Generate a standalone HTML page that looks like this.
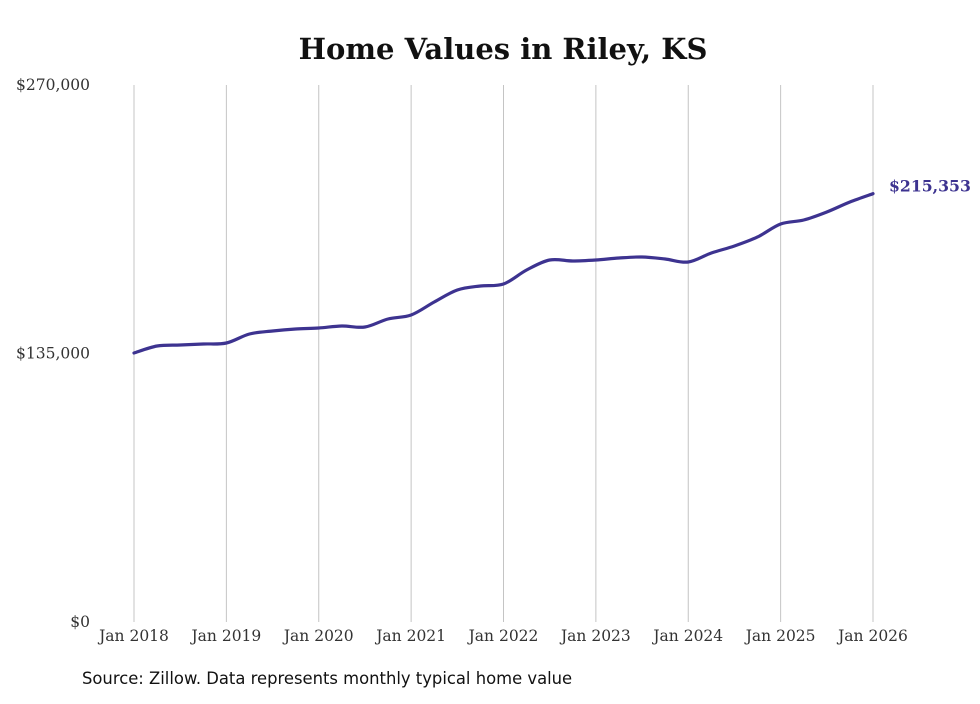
<!DOCTYPE html>
<html><head><meta charset="utf-8">
<style>
body{margin:0;background:#fff;width:980px;height:699px;overflow:hidden}
svg text{font-family:"DejaVu Serif","Liberation Serif",serif}
</style></head>
<body>
<svg id="chart" width="980" height="699" viewBox="0 0 980 699" xmlns="http://www.w3.org/2000/svg">
<text x="503" y="59" text-anchor="middle" font-size="29" font-weight="bold" fill="#111">Home Values in Riley, KS</text>
<g id="grid"></g>
<g id="yaxis"></g>
<g id="xaxis"></g>
<path id="line" fill="none" stroke="#3d3390" stroke-width="3.2" stroke-linejoin="round" stroke-linecap="round"/>
<text id="endlabel" font-size="15.7" font-weight="bold" fill="#3d3390"></text>
<text x="82" y="684" font-size="16.4" fill="#111" style="font-family:'DejaVu Sans','Liberation Sans',sans-serif">Source: Zillow. Data represents monthly typical home value</text>
</svg>
<script>
const xYears = [2018,2018.25,2018.5,2018.75,2019,2019.25,2019.5,2019.75,2020,2020.25,2020.5,2020.75,2021,2021.25,2021.5,2021.75,2022,2022.25,2022.5,2022.75,2023,2023.25,2023.5,2023.75,2024,2024.25,2024.5,2024.75,2025,2025.25,2025.5,2025.75,2026];
const values = [135250,138770,139270,139780,140280,144800,146310,147320,147820,148830,148320,152350,154360,160890,166930,168940,169940,176980,182010,181510,182010,183020,183520,182510,181000,185530,189050,193580,200110,202120,206150,211170,215353];
const xTickYears = [2018,2019,2020,2021,2022,2023,2024,2025,2026];
const xTickLabels = ["Jan 2018","Jan 2019","Jan 2020","Jan 2021","Jan 2022","Jan 2023","Jan 2024","Jan 2025","Jan 2026"];
const yTicks = [0,135000,270000];
const yTickLabels = ["$0","$135,000","$270,000"];
const lastLabel = "$215,353";

const NS="http://www.w3.org/2000/svg";
const x = v => 134 + (v-2018)*(873-134)/8;
const y = v => 622 - v*(622-85)/270000;
function mk(tag, attrs, parent){const e=document.createElementNS(NS,tag);for(const k in attrs)e.setAttribute(k,attrs[k]);parent.appendChild(e);return e;}
const grid=document.getElementById('grid'), xa=document.getElementById('xaxis'), ya=document.getElementById('yaxis');
xTickYears.forEach((yr,i)=>{
  const l=mk('line',{x1:x(yr),x2:x(yr),y1:85,y2:622,stroke:'#c4c4c4','stroke-width':1},grid);
  
  
  const t=mk('text',{x:x(yr),y:641,'text-anchor':'middle','font-size':15.5,fill:'#333'},xa);
  t.textContent=xTickLabels[i];
  
  
});
yTicks.forEach((v,i)=>{
  const t=mk('text',{x:90,y:y(v)+5,'text-anchor':'end','font-size':15.5,fill:'#333'},ya);
  t.textContent=yTickLabels[i];
  
  
});
const pts=xYears.map((yr,i)=>[x(yr),y(values[i])]);
let d=`M${pts[0][0]},${pts[0][1]}`;
for(let i=0;i<pts.length-1;i++){
  const p0=pts[Math.max(0,i-1)],p1=pts[i],p2=pts[i+1],p3=pts[Math.min(pts.length-1,i+2)];
  const c1=[p1[0]+(p2[0]-p0[0])/6,p1[1]+(p2[1]-p0[1])/6];
  const c2=[p2[0]-(p3[0]-p1[0])/6,p2[1]-(p3[1]-p1[1])/6];
  d+=` C${c1[0]},${c1[1]} ${c2[0]},${c2[1]} ${p2[0]},${p2[1]}`;
}
document.getElementById('line').setAttribute('d',d);
const el=document.getElementById('endlabel');
const lp=pts[pts.length-1];
el.setAttribute('x',lp[0]+16);el.setAttribute('y',lp[1]-2);
el.textContent=lastLabel;
</script>
</body></html>
